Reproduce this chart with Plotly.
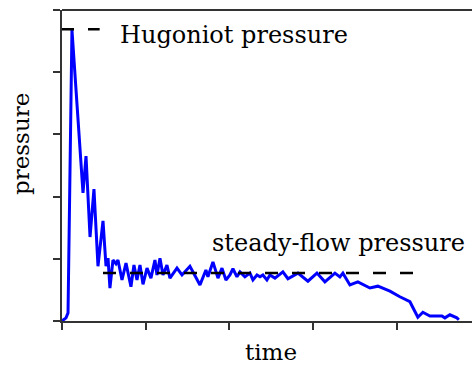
import plotly.graph_objects as go

# Pressure trace (time, pressure) in axis units (tick spacing = 1)
time = [0.0, 0.048, 0.072, 0.119, 0.251, 0.287, 0.335, 0.382, 0.430, 0.490,
        0.526, 0.550, 0.573, 0.609, 0.645, 0.669, 0.717, 0.765, 0.824, 0.860,
        0.896, 0.932, 0.968, 1.016, 1.063, 1.111, 1.135, 1.171, 1.207, 1.254,
        1.290, 1.374, 1.434, 1.529, 1.649, 1.720, 1.744, 1.804, 1.864, 1.912,
        1.959, 2.007, 2.043, 2.091, 2.127, 2.186, 2.246, 2.282, 2.330, 2.366,
        2.401, 2.449, 2.485, 2.545, 2.640, 2.700, 2.820, 2.939, 3.047, 3.142,
        3.262, 3.321, 3.357, 3.441, 3.536, 3.680, 3.775, 3.919, 4.038, 4.158,
        4.253, 4.313, 4.397, 4.540, 4.576, 4.636, 4.719, 4.743]
pressure = [0.0, 0.05, 0.13, 4.68, 2.06, 2.65, 1.35, 2.12, 0.88, 1.61,
            0.88, 1.01, 0.53, 0.98, 0.92, 0.98, 0.66, 0.93, 0.55, 0.90,
            0.66, 0.90, 0.59, 0.85, 0.69, 0.98, 0.74, 1.01, 0.74, 0.90,
            0.69, 0.85, 0.74, 0.88, 0.58, 0.82, 0.71, 0.95, 0.69, 0.85,
            0.66, 0.74, 0.84, 0.71, 0.79, 0.71, 0.77, 0.66, 0.74, 0.71,
            0.74, 0.66, 0.74, 0.69, 0.79, 0.68, 0.77, 0.64, 0.77, 0.63,
            0.77, 0.71, 0.77, 0.58, 0.63, 0.53, 0.56, 0.48, 0.39, 0.31,
            0.06, 0.14, 0.08, 0.08, 0.05, 0.10, 0.05, 0.02]

hugoniot_level = 4.69
hugoniot_span = [0.0, 0.45]
steady_level = 0.77
steady_span = [0.49, 4.25]

FONT = "DejaVu Serif"

fig = go.Figure()
fig.add_trace(go.Scatter(x=time, y=pressure, mode="lines",
                         line=dict(color="#0000ff", width=3), hoverinfo="skip"))
fig.add_trace(go.Scatter(x=hugoniot_span, y=[hugoniot_level] * 2, mode="lines",
                         line=dict(color="black", width=2.5, dash="12px,14px")))
fig.add_trace(go.Scatter(x=steady_span, y=[steady_level] * 2, mode="lines",
                         line=dict(color="black", width=2.5, dash="13px,14px")))

fig.add_annotation(x=0.67, y=4.6, xref="x", yref="y", text="Hugoniot pressure",
                   showarrow=False, xanchor="left", yanchor="middle",
                   font=dict(family=FONT, size=24, color="black"))
fig.add_annotation(x=1.77, y=1.25, xref="x", yref="y", text="steady-flow pressure",
                   showarrow=False, xanchor="left", yanchor="middle",
                   font=dict(family=FONT, size=24, color="black"))
fig.add_annotation(x=2.5, y=-0.1, xref="x", yref="paper", text="time",
                   showarrow=False, xanchor="center", yanchor="middle",
                   font=dict(family=FONT, size=23, color="black"))
fig.add_annotation(x=-0.1, y=0.569, xref="paper", yref="paper", text="pressure",
                   textangle=-90, showarrow=False, xanchor="center", yanchor="middle",
                   font=dict(family=FONT, size=23, color="black"))

# top frame line
fig.add_shape(type="line", xref="paper", yref="paper", x0=0, x1=1, y0=1, y1=1,
              line=dict(color="#333333", width=2))

fig.update_layout(
    width=472, height=368, margin=dict(l=62, r=0, t=10, b=47),
    paper_bgcolor="white", plot_bgcolor="white", showlegend=False,
    xaxis=dict(range=[0, 4.9], showgrid=False, zeroline=False, showline=True,
               linecolor="#333333", linewidth=2, ticks="outside",
               ticklen=7, tickwidth=2, tickcolor="#333333", dtick=1, tick0=0,
               showticklabels=False),
    yaxis=dict(range=[0, 5], showgrid=False, zeroline=False, showline=True,
               linecolor="#333333", linewidth=2, ticks="outside", ticklen=7,
               tickwidth=2, tickcolor="#333333", dtick=1, tick0=0,
               showticklabels=False),
)
fig.write_html("out.html")
